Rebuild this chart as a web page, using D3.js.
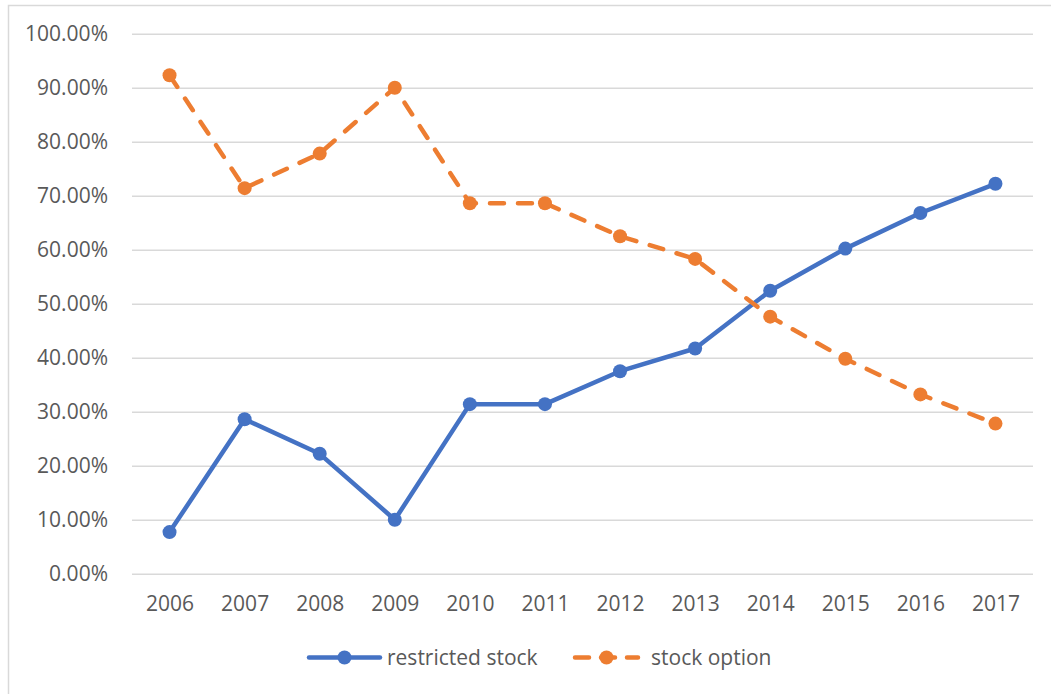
<!DOCTYPE html>
<html>
<head>
<meta charset="utf-8">
<script src="https://cdn.jsdelivr.net/npm/d3@7"></script>
<style>
  body { margin: 0; background: #fff; }
  text { font-family: "Open Sans", sans-serif; fill: #595959; }
</style>
</head>
<body>
<div id="chart"></div>
<script>
var years = ["2006", "2007", "2008", "2009", "2010", "2011", "2012", "2013", "2014", "2015", "2016", "2017"];
var restrictedStock = [0.077, 0.286, 0.222, 0.100, 0.314, 0.314, 0.375, 0.417, 0.524, 0.602, 0.668, 0.722];
var stockOption = [0.923, 0.714, 0.778, 0.900, 0.686, 0.686, 0.625, 0.583, 0.476, 0.398, 0.332, 0.278];
var yTicks = [0, 0.1, 0.2, 0.3, 0.4, 0.5, 0.6, 0.7, 0.8, 0.9, 1.0];

var svgWidth = 1051;
var svgHeight = 694;

var margin = { top: 33.7, right: 18, bottom: 120.3, left: 132 };
var width = svgWidth - margin.left - margin.right;
var height = svgHeight - margin.top - margin.bottom;

var svg = d3.select("#chart")
  .append("svg")
  .attr("width", svgWidth)
  .attr("height", svgHeight);

// chart border (right/bottom edges fall outside the frame)
svg.append("rect")
  .attr("x", 8.5)
  .attr("y", 5.5)
  .attr("width", 1060)
  .attr("height", 720)
  .attr("fill", "none")
  .attr("stroke", "#d9d9d9")
  .attr("stroke-width", 1.5);

var chartGroup = svg.append("g")
  .attr("transform", `translate(${margin.left}, ${margin.top})`);

var xScale = d3.scalePoint()
  .domain(years)
  .range([0, width])
  .padding(0.5);

var yScale = d3.scaleLinear()
  .domain([0, 1])
  .range([height, 0]);

// gridlines + y labels
var leftAxis = d3.axisLeft(yScale)
  .tickValues(yTicks)
  .tickSize(-width)
  .tickPadding(24)
  .tickFormat(d3.format(".2%"));

var yAxis = chartGroup.append("g").call(leftAxis);
yAxis.select(".domain").remove();
yAxis.selectAll("line").attr("stroke", "#d9d9d9").attr("stroke-width", 1.5);
yAxis.selectAll("text")
  .style("font-size", "21px")
  .attr("fill", "#595959");

// x labels
var bottomAxis = d3.axisBottom(xScale).tickSize(0).tickPadding(22);
var xAxis = chartGroup.append("g")
  .attr("transform", `translate(0, ${height})`)
  .call(bottomAxis);
xAxis.select(".domain").remove();
xAxis.selectAll("text")
  .style("font-size", "21px")
  .attr("fill", "#595959");

var series = [
  { name: "restricted stock", values: restrictedStock, color: "#4472c4", dash: null },
  { name: "stock option", values: stockOption, color: "#ed7d31", dash: "14,14" }
];

var line = d3.line()
  .x((d, i) => xScale(years[i]))
  .y(d => yScale(d));

series.forEach(function (s) {
  chartGroup.append("path")
    .datum(s.values)
    .attr("d", line)
    .attr("fill", "none")
    .attr("stroke", s.color)
    .attr("stroke-width", 4.5)
    .attr("stroke-linecap", "round")
    .attr("stroke-linejoin", "round")
    .attr("stroke-dasharray", s.dash);

  chartGroup.selectAll(null)
    .data(s.values)
    .enter()
    .append("circle")
    .attr("cx", (d, i) => xScale(years[i]))
    .attr("cy", d => yScale(d))
    .attr("r", 7)
    .attr("fill", s.color);
});

// legend
var legendItems = [
  { x1: 309, x2: 380, tx: 387 },
  { x1: 575, x2: 638, tx: 651 }
];
var legendY = 657.5;
series.forEach(function (s, i) {
  var li = legendItems[i];
  var g = svg.append("g");
  g.append("line")
    .attr("x1", li.x1).attr("x2", li.x2)
    .attr("y1", legendY).attr("y2", legendY)
    .attr("stroke", s.color)
    .attr("stroke-width", 4.5)
    .attr("stroke-linecap", "round")
    .attr("stroke-dasharray", s.dash ? "14,12" : null);
  g.append("circle")
    .attr("cx", (li.x1 + li.x2) / 2)
    .attr("cy", legendY)
    .attr("r", 7)
    .attr("fill", s.color);
  g.append("text")
    .attr("x", li.tx)
    .attr("y", legendY)
    .attr("dy", "0.35em")
    .style("font-size", "21px")
    .text(s.name);
});
</script>
</body>
</html>
